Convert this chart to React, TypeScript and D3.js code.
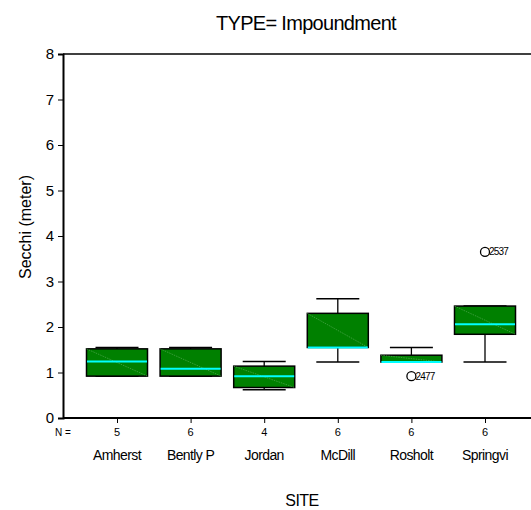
import React, { useRef, useEffect } from "react";
import * as d3 from "d3";

// data
const sites = ["Amherst", "Bently P", "Jordan", "McDill", "Rosholt", "Springvi"];
const counts = [5, 6, 4, 6, 6, 6];
const q1 = [0.92, 0.92, 0.67, 1.55, 1.23, 1.84];
const q3 = [1.52, 1.52, 1.14, 2.3, 1.38, 2.46];
const medians = [1.24, 1.08, 0.92, 1.55, 1.23, 2.06];
const whiskerLow = [0.92, 0.92, 0.62, 1.23, 1.23, 1.23];
const whiskerHigh = [1.55, 1.55, 1.24, 2.62, 1.55, 2.46];
const outlierSites = ["Rosholt", "Springvi"];
const outlierValues = [0.92, 3.65];
const outlierIds = ["2477", "2537"];
const yTicks = [0, 1, 2, 3, 4, 5, 6, 7, 8];

const FONT = "Liberation Sans, Arial, sans-serif";

const App = () => {
    const svgRef = useRef<SVGSVGElement>(null);

    useEffect(() => {
        document.body.style.margin = "0";
        const svg = d3.select(svgRef.current);
        svg.selectAll("*").remove();

        const width = 531;
        const height = 510;
        const left = 63;
        const top = 54;
        const bottom = 418;

        const x = d3.scalePoint<string>().domain(sites).range([117, 485]);
        const y = d3.scaleLinear().domain([0, 8]).range([bottom, top]);

        const boxW = 61;
        const capW = 43;

        svg.attr("width", width).attr("height", height).style("display", "block");
        svg.append("rect").attr("width", width).attr("height", height).attr("fill", "#fff");

        // title
        svg.append("text")
            .attr("x", 306)
            .attr("y", 30)
            .attr("text-anchor", "middle")
            .attr("font-family", FONT)
            .attr("font-size", 20)
            .attr("letter-spacing", -0.7)
            .text("TYPE= Impoundment");

        // top frame line
        svg.append("line")
            .attr("x1", left).attr("x2", width)
            .attr("y1", top).attr("y2", top)
            .attr("stroke", "#000").attr("stroke-width", 1.6);

        // y axis
        const yAxis = svg.append("g")
            .attr("transform", `translate(${left},0)`)
            .call(d3.axisLeft(y).tickValues(yTicks).tickFormat(d3.format("d")).tickSize(5).tickPadding(4));
        yAxis.select(".domain").attr("stroke-width", 2);
        yAxis.selectAll("text").attr("font-family", FONT).attr("font-size", 15).attr("fill", "#000");

        // x axis
        const xAxis = svg.append("g")
            .attr("transform", `translate(0,${bottom})`)
            .call(d3.axisBottom(x).tickSize(5).tickFormat(() => ""));
        xAxis.select(".domain").attr("d", `M${left},0H${width}`).attr("stroke-width", 2);

        // N counts
        svg.append("text")
            .attr("x", 55).attr("y", 436)
            .attr("font-family", FONT).attr("font-size", 10)
            .text("N =");
        svg.selectAll(".count")
            .data(sites)
            .enter()
            .append("text")
            .attr("x", d => x(d)!)
            .attr("y", 436)
            .attr("text-anchor", "middle")
            .attr("font-family", FONT)
            .attr("font-size", 11)
            .text((d, i) => counts[i]);

        // site labels
        svg.selectAll(".site")
            .data(sites)
            .enter()
            .append("text")
            .attr("x", d => x(d)!)
            .attr("y", 460)
            .attr("text-anchor", "middle")
            .attr("font-family", FONT)
            .attr("font-size", 14)
            .attr("letter-spacing", -0.6)
            .text(d => d);

        // axis titles
        svg.append("text")
            .attr("x", 302).attr("y", 506)
            .attr("text-anchor", "middle")
            .attr("font-family", FONT).attr("font-size", 16)
            .attr("letter-spacing", -0.5)
            .text("SITE");

        svg.append("text")
            .attr("transform", "translate(31,227) rotate(-90)")
            .attr("text-anchor", "middle")
            .attr("font-family", FONT).attr("font-size", 16)
            .text("Secchi (meter)");

        // boxes
        const g = svg.append("g");
        sites.forEach((s, i) => {
            const cx = x(s)!;
            const b = g.append("g");
            b.append("line")
                .attr("x1", cx).attr("x2", cx)
                .attr("y1", y(whiskerLow[i])).attr("y2", y(whiskerHigh[i]))
                .attr("stroke", "#000").attr("stroke-width", 1.3);
            [whiskerLow[i], whiskerHigh[i]].forEach(v => {
                b.append("line")
                    .attr("x1", cx - capW / 2).attr("x2", cx + capW / 2)
                    .attr("y1", y(v)).attr("y2", y(v))
                    .attr("stroke", "#000").attr("stroke-width", 1.5);
            });
            b.append("rect")
                .attr("x", cx - boxW / 2)
                .attr("y", y(q3[i]))
                .attr("width", boxW)
                .attr("height", y(q1[i]) - y(q3[i]))
                .attr("fill", "#008000")
                .attr("stroke", "#000")
                .attr("stroke-width", 1.5);
            b.append("line")
                .attr("x1", cx - boxW / 2).attr("x2", cx + boxW / 2)
                .attr("y1", y(q3[i])).attr("y2", y(q1[i]))
                .attr("stroke", "#4fa84f").attr("stroke-width", 0.7)
                .attr("stroke-dasharray", "1.5,1");
            b.append("line")
                .attr("x1", cx - boxW / 2 + 0.5).attr("x2", cx + boxW / 2 - 0.5)
                .attr("y1", y(medians[i])).attr("y2", y(medians[i]))
                .attr("stroke", "#00ffff").attr("stroke-width", 2);
        });

        // outliers
        outlierSites.forEach((s, i) => {
            const cx = x(s)!;
            const cy = y(outlierValues[i]);
            svg.append("circle")
                .attr("cx", cx).attr("cy", cy).attr("r", 4.5)
                .attr("fill", "#fff").attr("stroke", "#000").attr("stroke-width", 1.3);
            svg.append("text")
                .attr("x", cx + 4).attr("y", cy + 3.5)
                .attr("font-family", FONT).attr("font-size", 10)
                .attr("letter-spacing", -0.8)
                .text(outlierIds[i]);
        });
    }, []);

    return <svg ref={svgRef}></svg>;
};

export default App;
